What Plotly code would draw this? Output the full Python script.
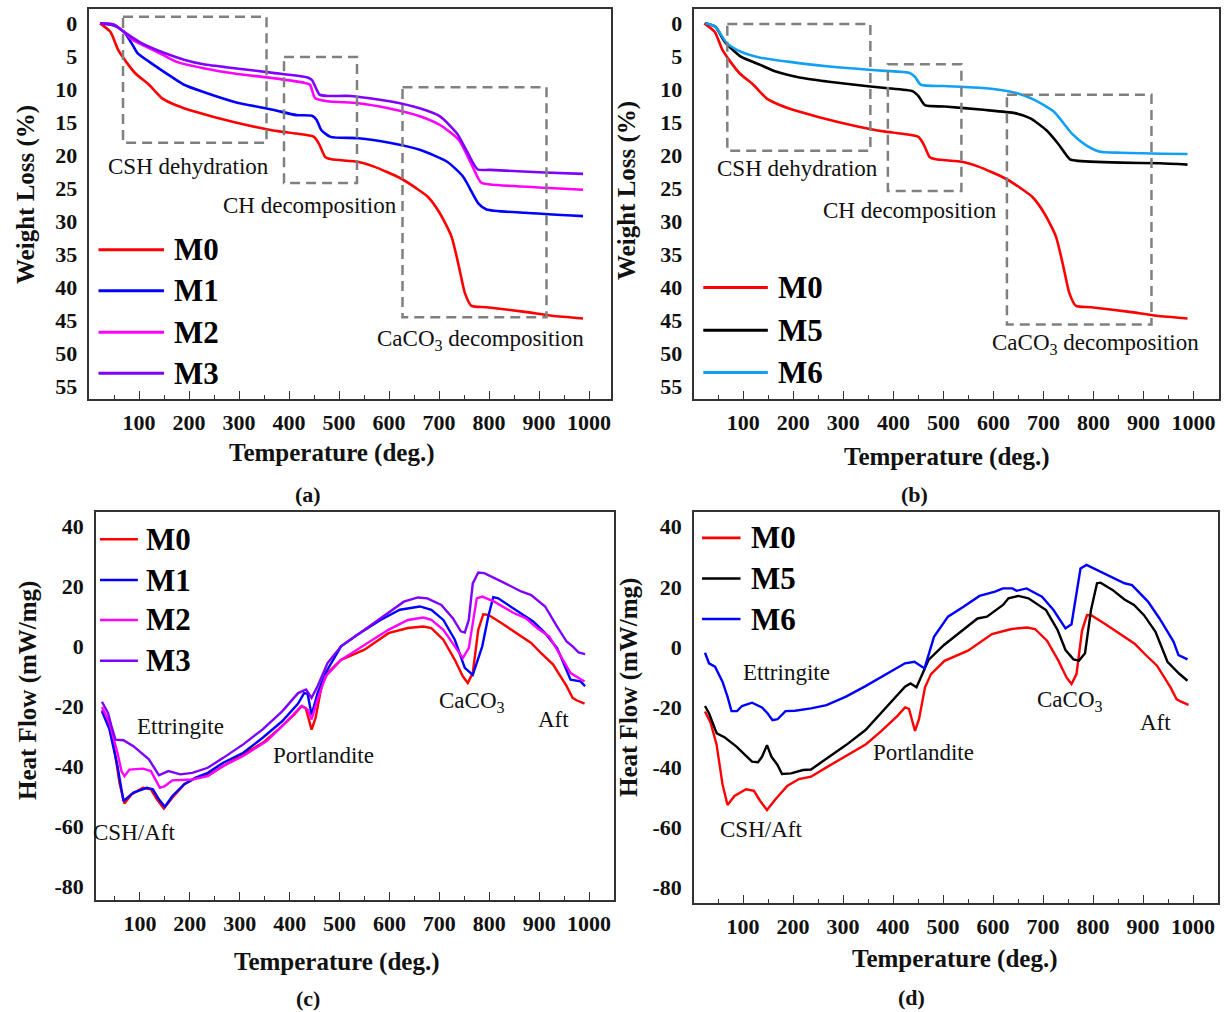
import plotly.graph_objects as go

W, H = 1226, 1012
FONT = "Liberation Serif, Times New Roman, serif"

# ---------------- TG data (Weight loss %) ----------------
M0_tg_T = [22, 43, 58, 74, 93, 120, 147, 174, 213, 291, 353, 384, 415, 450, 461, 473, 485, 539, 570, 624, 655, 678, 702, 725, 740, 752, 765, 795, 872, 926, 988]
M0_tg_W = [0, 1.3, 4, 5.8, 7.6, 9.3, 11.4, 12.4, 13.4, 15, 16, 16.4, 16.7, 17.2, 18.4, 20.3, 20.6, 21, 21.7, 23.5, 25, 26.3, 28.8, 32.3, 36.9, 40.9, 42.8, 43, 43.7, 44.3, 44.7]

M1_tg_T = [22, 50, 70, 85, 97, 120, 159, 190, 229, 291, 368, 415, 446, 455, 465, 483, 539, 601, 663, 717, 748, 779, 795, 872, 988]
M1_tg_W = [0, 0.35, 1.3, 3.0, 4.5, 5.8, 7.8, 9.3, 10.4, 11.9, 13.1, 13.9, 14.0, 14.6, 16.2, 17.2, 17.4, 18.1, 19.2, 21, 23.2, 27.3, 28.2, 28.7, 29.2]

M2_tg_T = [22, 50, 70, 89, 136, 174, 229, 291, 368, 430, 442, 452, 477, 539, 601, 663, 702, 740, 764, 784, 802, 911, 988]
M2_tg_W = [0, 0.2, 1.3, 2.6, 4.3, 5.8, 6.8, 7.6, 8.3, 9.0, 9.3, 11.3, 11.8, 12.1, 12.9, 14.1, 15.4, 17.7, 21.2, 24.1, 24.4, 24.9, 25.2]

M3_tg_T = [22, 50, 70, 105, 151, 190, 229, 291, 368, 437, 446, 461, 477, 523, 601, 663, 702, 736, 756, 777, 802, 911, 988]
M3_tg_W = [0, 0.2, 1.3, 3.0, 4.5, 5.5, 6.2, 6.8, 7.5, 8.2, 8.6, 10.8, 11.0, 11.0, 11.8, 12.9, 14.1, 16.7, 19.4, 22.1, 22.2, 22.6, 22.8]

M5_tg_T = [24, 44, 63, 95, 134, 165, 212, 267, 345, 384, 439, 451, 463, 502, 580, 643, 674, 706, 729, 753, 765, 855, 933, 988]
M5_tg_W = [0, 0.5, 2.8, 5.05, 6.3, 7.3, 8.2, 8.8, 9.5, 9.8, 10.3, 11.1, 12.4, 12.6, 13.1, 13.6, 14.4, 16.2, 18.2, 20.6, 20.8, 21.1, 21.2, 21.4]

M6_tg_T = [24, 44, 67, 95, 134, 189, 267, 345, 384, 431, 443, 455, 502, 580, 643, 682, 721, 757, 784, 811, 855, 988]
M6_tg_W = [0, 0.5, 3.0, 4.3, 5.2, 5.8, 6.5, 7.0, 7.2, 7.5, 8.1, 9.3, 9.5, 9.8, 10.5, 11.6, 13.4, 16.7, 18.4, 19.4, 19.6, 19.8]

# ---------------- DSC data (Heat flow mW/mg) ----------------
M0_dsc_T = [24, 35, 47, 59, 69, 83, 106, 122, 134, 148, 165, 189, 212, 236, 267, 307, 346, 377, 409, 424, 432, 444, 452, 464, 476, 503, 550, 598, 637, 668, 684, 708, 731, 747, 757, 767, 778, 788, 798, 825, 849, 873, 884, 904, 928, 955, 967, 975, 991]
M0_dsc_H = [-21.4, -25.1, -32.3, -45.6, -52.5, -49.5, -47.3, -47.8, -51.1, -54.2, -50.6, -46.1, -43.9, -43.1, -40, -36.2, -32.3, -27.9, -22.9, -20.1, -20.6, -27.9, -24, -13.4, -9, -4.6, -1.2, 4.3, 6, 6.5, 6, 2.1, -4.6, -10.1, -12.3, -9, 5.4, 10.6, 10.4, 7.6, 4.9, 2.1, 1, -2.4, -6.2, -13.4, -17.3, -18.1, -19.2]

M1_dsc_T = [24, 39, 55, 67, 87, 114, 126, 138, 150, 165, 189, 212, 236, 267, 307, 346, 385, 417, 429, 436, 444, 456, 472, 503, 535, 582, 621, 661, 684, 708, 731, 751, 767, 786, 798, 808, 818, 849, 873, 888, 912, 936, 963, 983, 992]
M1_dsc_H = [-21.8, -27.8, -40, -51.7, -48.9, -47.3, -47.8, -51.1, -53.6, -50, -46.1, -43.9, -42.3, -38.9, -35.6, -30.6, -25.1, -19.2, -15.7, -15.9, -22.9, -15.7, -9, -0.1, 3.7, 8.7, 12.1, 13.2, 12.1, 8.7, 2.1, -7.3, -9.6, -0.1, 9.8, 16.3, 15.9, 12.6, 9.8, 8.2, 4.3, -0.7, -11.2, -11.8, -13.4]

M2_dsc_T = [24, 39, 55, 63, 69, 79, 106, 122, 140, 150, 165, 205, 236, 267, 307, 354, 385, 409, 424, 436, 444, 456, 472, 503, 550, 598, 637, 668, 684, 708, 731, 747, 759, 775, 786, 810, 849, 873, 896, 920, 944, 963, 991]
M2_dsc_H = [-20.3, -25.6, -35.6, -41.7, -43.4, -41.2, -40.9, -41.7, -47.3, -46.7, -44.8, -44.5, -43.4, -40, -36.7, -31.7, -26.7, -22.3, -19.9, -21.2, -24.5, -17.9, -10.1, -4.6, 0.4, 5.4, 8.7, 9.5, 8.7, 5.4, -0.1, -4, -0.7, 15.9, 16.5, 14.8, 11, 9.3, 6, 3.2, -3.5, -9, -11.8]

M3_dsc_T = [24, 36, 43, 51, 67, 87, 118, 138, 157, 181, 205, 236, 267, 307, 346, 385, 417, 433, 444, 456, 476, 503, 550, 598, 629, 657, 676, 704, 727, 743, 751, 759, 767, 778, 790, 825, 864, 884, 912, 936, 955, 967, 979, 992]
M3_dsc_H = [-18.6, -22.3, -26.7, -31.2, -31.4, -33.4, -37.8, -43.1, -41.7, -42.8, -42.3, -40.6, -37.3, -32.8, -27.8, -21.8, -15.7, -14.5, -17.3, -13.4, -5.7, -0.1, 5.4, 11, 14.8, 16.2, 15.9, 13.7, 9.3, 4.9, 4.5, 8.7, 20.9, 24.5, 24.3, 21.5, 18.2, 17, 13.2, 6.5, 1.5, -0.1, -2.1, -2.7]

M5_dsc_T = [24, 32, 47.5, 63, 87, 118, 130, 138, 148, 157, 169, 178, 196, 220, 236, 267, 306, 345, 384, 424, 435, 447, 455, 471, 502, 541, 569, 588, 620, 631, 651, 671, 706, 729, 745, 761, 772, 784, 796, 808, 815, 839, 863, 882, 902, 925, 949, 972, 989]
M5_dsc_H = [-19.6, -22, -28.7, -30, -33.1, -38.1, -38.3, -36.5, -32.6, -36.5, -39.2, -42.2, -42, -40.9, -40.7, -37, -32.6, -27.6, -20.4, -13.2, -12.1, -13.4, -10.4, -4.3, 0.7, 5.7, 9.5, 10.1, 14, 16.2, 17, 16.2, 12.3, 5.7, -1, -4.1, -4.5, -2.1, 12.3, 21.2, 21.4, 19, 15.8, 14, 10.6, 5.1, -4.9, -8.8, -11.2]

M6_dsc_T = [24, 32, 44, 59, 69, 77, 88, 98, 118, 138, 149, 159, 169, 185, 204, 236, 267, 306, 345, 384, 424, 443, 463, 482, 510, 541, 573, 604, 620, 639, 647, 667, 698, 721, 745, 757, 775, 787, 815, 863, 878, 910, 933, 961, 971, 989]
M6_dsc_H = [-1.9, -5.4, -6.5, -11.5, -16.5, -21.3, -21.3, -19.6, -18.5, -20.1, -22, -24.3, -24, -21.3, -21.2, -20.4, -19.3, -16.5, -13, -9.3, -5.4, -4.9, -7.1, 3.4, 10.1, 13.4, 17, 18.4, 19.5, 19.5, 18.7, 19.5, 16.7, 12.3, 6.2, 7.6, 26.1, 27.3, 25, 21.2, 20.6, 15.1, 9.5, 1.8, -2.7, -4.1]

# ticks
x_ticks = [100, 200, 300, 400, 500, 600, 700, 800, 900, 1000]
x_minor = [50, 150, 250, 350, 450, 550, 650, 750, 850, 950]
tg_ticks = [0, 5, 10, 15, 20, 25, 30, 35, 40, 45, 50, 55]
dsc_ticks = [-80, -60, -40, -20, 0, 20, 40]
dsc_tick_text = ["-80", "-60", "-40", "-20", "0", "20", "40"]

COL = {"M0": "#FF0000", "M1": "#0000FF", "M2": "#FF00FF", "M3": "#7F00FF",
       "M5": "#000000", "M6": "#13A0F2"}
COL_D = dict(COL, M6="#0000FF")


def px2x(p):
    return p / W


def px2y(p):
    return 1 - p / H


fig = go.Figure()

panels = {
    "a": ("x", "y", (89.3, 611), (9, 399), [0.6, 1044], [56.9, -2.17], tg_ticks, [str(v) for v in tg_ticks]),
    "b": ("x2", "y2", (694.3, 1219), (9, 399), [2, 1051], [56.9, -2.17], tg_ticks, [str(v) for v in tg_ticks]),
    "c": ("x3", "y3", (96, 614), (512, 900), [12, 1050], [-84.7, 44.7], dsc_ticks, dsc_tick_text),
    "d": ("x4", "y4", (694, 1218), (512, 902.7), [2, 1050], [-85, 44.9], dsc_ticks, dsc_tick_text),
}

layout_axes = {}
for k, (xa, ya, xd, yd, xr, yr, yt, ytt) in panels.items():
    xname = "xaxis" if xa == "x" else "xaxis" + xa[1:]
    yname = "yaxis" if ya == "y" else "yaxis" + ya[1:]
    layout_axes[xname] = dict(
        domain=[px2x(xd[0]), px2x(xd[1])], range=xr, anchor=ya,
        showline=True, mirror=True, linecolor="#333333", linewidth=1.5,
        showgrid=False, zeroline=False, tickmode="array", tickvals=x_ticks,
        ticktext=[str(v) for v in x_ticks],
        ticks="inside", ticklen=8, tickwidth=1.3, tickcolor="#333333",
        minor=dict(tickmode="array", tickvals=x_minor, ticks="inside", ticklen=4,
                   tickwidth=1.3, tickcolor="#333333", showgrid=False),
        tickfont=dict(family=FONT, size=22, color="#111111", weight="bold"),
        ticklabelstandoff=3,
    )
    layout_axes[yname] = dict(
        domain=[px2y(yd[1]), px2y(yd[0])], range=yr, anchor=xa,
        showline=True, mirror=True, linecolor="#333333", linewidth=1.5,
        showgrid=False, zeroline=False, tickmode="array", tickvals=yt, ticktext=ytt,
        ticks="", tickfont=dict(family=FONT, size=22, color="#111111", weight="bold"),
        ticklabelstandoff=6,
    )


def add_line(xa, ya, T, V, name, col, width=2.6, shape="spline"):
    fig.add_trace(go.Scatter(x=T, y=V, mode="lines", name=name, xaxis=xa, yaxis=ya,
                             line=dict(color=col, width=width, shape=shape, smoothing=0.6),
                             showlegend=False))


# panel a
add_line("x", "y", M0_tg_T, M0_tg_W, "M0", COL["M0"])
add_line("x", "y", M1_tg_T, M1_tg_W, "M1", COL["M1"])
add_line("x", "y", M2_tg_T, M2_tg_W, "M2", COL["M2"])
add_line("x", "y", M3_tg_T, M3_tg_W, "M3", COL["M3"])
# panel b
add_line("x2", "y2", M0_tg_T, M0_tg_W, "M0", COL["M0"])
add_line("x2", "y2", M5_tg_T, M5_tg_W, "M5", COL["M5"])
add_line("x2", "y2", M6_tg_T, M6_tg_W, "M6", COL["M6"])
# panel c
add_line("x3", "y3", M0_dsc_T, M0_dsc_H, "M0", COL["M0"], 2.4, "linear")
add_line("x3", "y3", M1_dsc_T, M1_dsc_H, "M1", COL["M1"], 2.4, "linear")
add_line("x3", "y3", M2_dsc_T, M2_dsc_H, "M2", COL["M2"], 2.4, "linear")
add_line("x3", "y3", M3_dsc_T, M3_dsc_H, "M3", COL["M3"], 2.4, "linear")
# panel d
add_line("x4", "y4", M0_dsc_T, M0_dsc_H, "M0", COL_D["M0"], 2.4, "linear")
add_line("x4", "y4", M5_dsc_T, M5_dsc_H, "M5", COL_D["M5"], 2.4, "linear")
add_line("x4", "y4", M6_dsc_T, M6_dsc_H, "M6", COL_D["M6"], 2.4, "linear")

shapes = []
annotations = []

boxes = [
    ("x", "y", 68, 355, -1.0, 18.1), ("x", "y", 390, 536, 5.1, 24.2), ("x", "y", 627, 915, 9.7, 44.5),
    ("x2", "y2", 68, 354, 0.1, 19.3), ("x2", "y2", 389, 536, 6.2, 25.4), ("x2", "y2", 627, 916, 10.8, 45.6),
]
for xa, ya, x0, x1, y0, y1 in boxes:
    shapes.append(dict(type="rect", xref=xa, yref=ya, x0=x0, x1=x1, y0=y0, y1=y1,
                       line=dict(color="#808080", width=2.5, dash="10px,6px")))

legends = [
    ("x", "y", 19, 150, 166, [("M0", 34.3), ("M1", 40.5), ("M2", 46.8), ("M3", 53.0)], COL, 3),
    ("x2", "y2", 20, 149, 165, [("M0", 40.0), ("M5", 46.5), ("M6", 52.9)], COL, 3),
    ("x3", "y3", 20, 96, 109, [("M0", 35.6), ("M1", 22.0), ("M2", 8.7), ("M3", -4.9)], COL, 2.6),
    ("x4", "y4", 18, 95, 112, [("M0", 36.3), ("M5", 22.8), ("M6", 9.3)], COL_D, 2.6),
]
for xa, ya, lx0, lx1, tx, items, cmap, lw in legends:
    for nm, yy in items:
        shapes.append(dict(type="line", xref=xa, yref=ya, x0=lx0, x1=lx1, y0=yy, y1=yy,
                           line=dict(color=cmap[nm], width=lw)))
        annotations.append(dict(xref=xa, yref=ya, x=tx, y=yy, text=nm, showarrow=False,
                                xanchor="left", yanchor="middle",
                                font=dict(family=FONT, size=31, color="#000000", weight="bold")))

notes = [
    ("x", "y", 198, 21.7, "CSH dehydration"), ("x", "y", 441, 27.6, "CH decomposition"),
    ("x", "y", 782, 48.0, "CaCO<sub>3</sub> decomposition"),
    ("x2", "y2", 209, 22.0, "CSH dehydration"), ("x2", "y2", 434, 28.3, "CH decomposition"),
    ("x2", "y2", 805, 48.5, "CaCO<sub>3</sub> decomposition"),
    ("x3", "y3", 181, -26.8, "Ettringite"), ("x3", "y3", 88, -62.1, "CSH/Aft"),
    ("x3", "y3", 467, -36.4, "Portlandite"), ("x3", "y3", 765, -18.8, "CaCO<sub>3</sub>"),
    ("x3", "y3", 928, -24.6, "Aft"),
    ("x4", "y4", 186, -8.5, "Ettringite"), ("x4", "y4", 136, -60.5, "CSH/Aft"),
    ("x4", "y4", 460, -35.0, "Portlandite"), ("x4", "y4", 753, -17.9, "CaCO<sub>3</sub>"),
    ("x4", "y4", 924, -25.2, "Aft"),
]
for xa, ya, xx, yy, txt in notes:
    annotations.append(dict(xref=xa, yref=ya, x=xx, y=yy, text=txt, showarrow=False,
                            xanchor="center", yanchor="middle",
                            font=dict(family=FONT, size=23, color="#111111")))

titles = [
    (332, 453, "Temperature (deg.)", 0), (947, 457, "Temperature (deg.)", 0),
    (337, 962, "Temperature (deg.)", 0), (955, 959, "Temperature (deg.)", 0),
    (26, 195, "Weight Loss (%)", -90), (627, 191, "Weight Loss (%)", -90),
    (28, 691, "Heat Flow (mW/mg)", -90), (629, 688, "Heat Flow (mW/mg)", -90),
]
for xp, yp, txt, ang in titles:
    annotations.append(dict(xref="paper", yref="paper", x=px2x(xp), y=px2y(yp), text=txt,
                            showarrow=False, xanchor="center", yanchor="middle", textangle=ang,
                            font=dict(family=FONT, size=25, color="#111111", weight="bold")))

for xp, yp, txt in [(308, 495, "(a)"), (914, 495, "(b)"), (308, 998, "(c)"), (911, 997, "(d)")]:
    annotations.append(dict(xref="paper", yref="paper", x=px2x(xp), y=px2y(yp), text=txt,
                            showarrow=False, xanchor="center", yanchor="middle",
                            font=dict(family=FONT, size=22, color="#111111", weight="bold")))

fig.update_layout(width=W, height=H, margin=dict(l=0, r=0, t=0, b=0),
                  paper_bgcolor="white", plot_bgcolor="white",
                  shapes=shapes, annotations=annotations, showlegend=False, **layout_axes)

fig.write_html("out.html", config={"displayModeBar": False},
               post_script="document.body.style.margin='0px';document.body.style.overflow='hidden';")
